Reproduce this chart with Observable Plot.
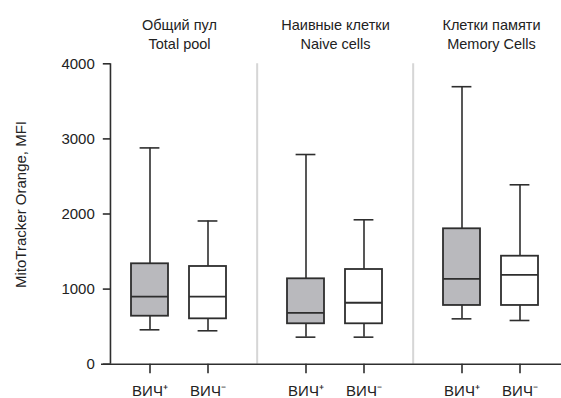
<!DOCTYPE html>
<html>
<head>
<meta charset="utf-8">
<script src="https://cdn.jsdelivr.net/npm/d3@7"></script>
<script src="https://cdn.jsdelivr.net/npm/@observablehq/plot@0.6"></script>
<style>
  html, body { margin: 0; padding: 0; background: #fff; }
  #chart { width: 561px; height: 398px; }
</style>
</head>
<body>
<div id="chart"></div>
<script>
// ---- data ----
const groups = ["Общий пул\nTotal pool", "Наивные клетки\nNaive cells", "Клетки памяти\nMemory Cells"];
const statuses = ["ВИЧ⁺", "ВИЧ⁻"];
const yTicks = [0, 1000, 2000, 3000, 4000];
const yTitle = "MitoTracker Orange, MFI";
// per box, order: Total+, Total-, Naive+, Naive-, Memory+, Memory-
const lows    = [458, 445, 360, 360, 604, 582];
const q1s     = [639, 604, 538, 538, 782, 782];
const medians = [901, 901, 684, 818, 1137, 1190];
const q3s     = [1337, 1301, 1137, 1261, 1803, 1438];
const highs   = [2880, 1907, 2792, 1923, 3695, 2389];

const rows = lows.map((_, i) => ({
  group: groups[Math.floor(i / 2)],
  status: statuses[i % 2],
  low: lows[i], q1: q1s[i], median: medians[i], q3: q3s[i], high: highs[i]
}));

const W = 561, H = 398;
const mL = 100, mR = -9;
const facetW = (W - mL - mR) / groups.length;
const stroke = "#2e2e2e";
const sans = "'Liberation Sans', Arial, Helvetica, sans-serif";

const chart = Plot.plot({
  width: W,
  height: H,
  marginLeft: mL,
  marginRight: mR,
  marginTop: 63.3,
  marginBottom: 34.3,
  style: {fontFamily: sans, fontSize: "15px", color: "#222", background: "#fff"},
  fx: {domain: groups, padding: 0},
  x: {domain: statuses, paddingInner: 0.355, paddingOuter: 0.5},
  y: {domain: [0, 4000]},
  color: {domain: statuses, range: ["#b9b9bd", "#ffffff"]},
  marks: [
    // separators between groups
    Plot.ruleX(groups.slice(1), {fx: d => d, x: null, y1: 0, y2: 4000, dx: -facetW / 2, stroke: "#d6d6d6", strokeWidth: 2}),
    // y axis line
    Plot.ruleX([0], {x: null, y1: 0, y2: 4000, dx: -facetW / 2 + 9.3, stroke, strokeWidth: 1.6, facetAnchor: "left"}),
    // x axis line
    Plot.ruleY([0], {stroke, strokeWidth: 1.6}),
    // whiskers
    Plot.ruleX(rows, {fx: "group", x: "status", y1: "low", y2: "q1", stroke, strokeWidth: 1.6}),
    Plot.ruleX(rows, {fx: "group", x: "status", y1: "q3", y2: "high", stroke, strokeWidth: 1.6}),
    Plot.tickY(rows, {fx: "group", x: "status", y: "low", insetLeft: 8.6, insetRight: 8.6, stroke, strokeWidth: 1.6}),
    Plot.tickY(rows, {fx: "group", x: "status", y: "high", insetLeft: 8.6, insetRight: 8.6, stroke, strokeWidth: 1.6}),
    // boxes
    Plot.barY(rows, {fx: "group", x: "status", y1: "q1", y2: "q3", fill: "status", stroke, strokeWidth: 1.8}),
    Plot.tickY(rows, {fx: "group", x: "status", y: "median", stroke, strokeWidth: 1.8}),
    // axes
    Plot.axisY({ticks: yTicks, tickFormat: d => String(d), tickSize: 7.5, tickPadding: 8.5, dx: 9.3, stroke, strokeWidth: 1.6, fontSize: 15, label: null}),
    Plot.axisX({anchor: "bottom", tickSize: 9.5, tickPadding: 12, stroke, strokeWidth: 1.6, fontSize: 15, label: null}),
    Plot.axisFx({anchor: "top", tickSize: 0, tickPadding: 15, fontSize: 14.5, lineHeight: 1.27, label: null}),
    Plot.text([yTitle], {text: d => d, frameAnchor: "left", textAnchor: "middle", rotate: -90, dx: -80, dy: -9.5, facetAnchor: "left", fontSize: 15, fill: "#222"})
  ]
});
document.getElementById("chart").appendChild(chart);
</script>
</body>
</html>
